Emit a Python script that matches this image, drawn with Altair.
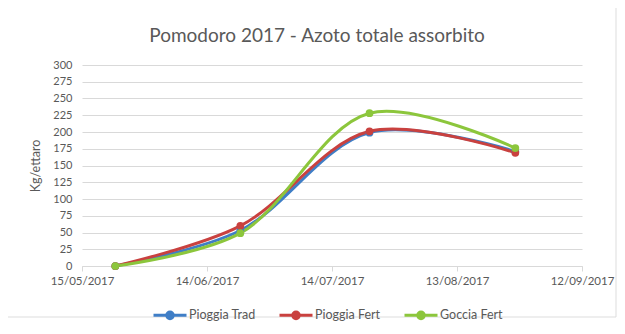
import altair as alt
import pandas as pd

dates = ["2017-05-23", "2017-06-22", "2017-07-23", "2017-08-27"]
series = ["Pioggia Trad", "Pioggia Fert", "Goccia Fert"]
pioggia_trad = [0, 53, 199, 171]
pioggia_fert = [0, 60, 201, 169]
goccia_fert = [0, 49, 228, 176]
colors = ["#3f7ec6", "#c9413f", "#8cc63c"]
tick_dates = [(2017, 5, 15), (2017, 6, 14), (2017, 7, 14), (2017, 8, 13), (2017, 9, 12)]

rows = []
for i, (name, vals) in enumerate(zip(series, [pioggia_trad, pioggia_fert, goccia_fert])):
    for d, v in zip(dates, vals):
        rows.append({"date": d, "serie": name, "valore": v, "ord": i})
df = pd.DataFrame(rows)

font = "Lato"
gray = "#595959"

tick_vals = [alt.DateTime(year=y, month=m, date=d, utc=True) for (y, m, d) in tick_dates]

x = alt.X("date:T",
          scale=alt.Scale(type="utc", domain=[tick_vals[0], tick_vals[-1]]),
          axis=alt.Axis(values=tick_vals, labelExpr="utcFormat(datum.value, '%d/%m/%Y')",
                        title=None, labelFlush=False,
                        grid=False, domainColor="#d9d9d9", tickColor="#d9d9d9", tickSize=5,
                        labelColor=gray, labelFontSize=11.5, labelFont=font, labelPadding=4))
y = alt.Y("valore:Q",
          scale=alt.Scale(domain=[0, 300]),
          axis=alt.Axis(values=list(range(0, 301, 25)), title="Kg/ettaro", titleFont=font,
                        titleFontSize=12.5, titleColor=gray, titleFontWeight="normal",
                        titlePadding=10,
                        domain=False, ticks=False, gridColor="#d9d9d9",
                        labelColor=gray, labelFontSize=11, labelFont=font, labelPadding=10))
color = alt.Color("serie:N", scale=alt.Scale(domain=series, range=colors),
                  legend=alt.Legend(title=None, orient="none", direction="horizontal",
                                    legendX=70, legendY=232,
                                    symbolType="M-1,0H1M-0.2,0A0.2,0.2 0 1,0 0.2,0A0.2,0.2 0 1,0 -0.2,0Z",
                                    symbolSize=1089, symbolStrokeWidth=3,
                                    labelFont=font, labelFontSize=12.5, labelColor=gray,
                                    labelOffset=1, columnPadding=17))

base = alt.Chart(df).encode(x=x, y=y, color=color, order=alt.Order("ord:Q"),
                            detail="serie:N")

lines = base.mark_line(strokeWidth=3, interpolate="catmull-rom")
points = base.mark_point(filled=True, size=60, opacity=1)

frame = alt.Chart(pd.DataFrame({"a": [0]})).mark_rect(
    fill="transparent", stroke="#dddddd", strokeWidth=1, clip=False
).encode(x=alt.value(-76), x2=alt.value(534), y=alt.value(-58), y2=alt.value(252))

chart = alt.layer(frame, lines, points).properties(
    width=500, height=201,
    autosize=alt.AutoSizeParams(type="none"),
    padding={"left": 74, "top": 57, "right": 35, "bottom": 60},
    title=alt.TitleParams("Pomodoro  2017 - Azoto totale assorbito", font=font, fontSize=19,
                          fontWeight="normal", color=gray, offset=0, dy=39, dx=-15,
                          anchor="middle"),
    background="white",
).configure_view(stroke=None)

chart.save("out.html", embed_options={"renderer": "svg", "actions": False})
